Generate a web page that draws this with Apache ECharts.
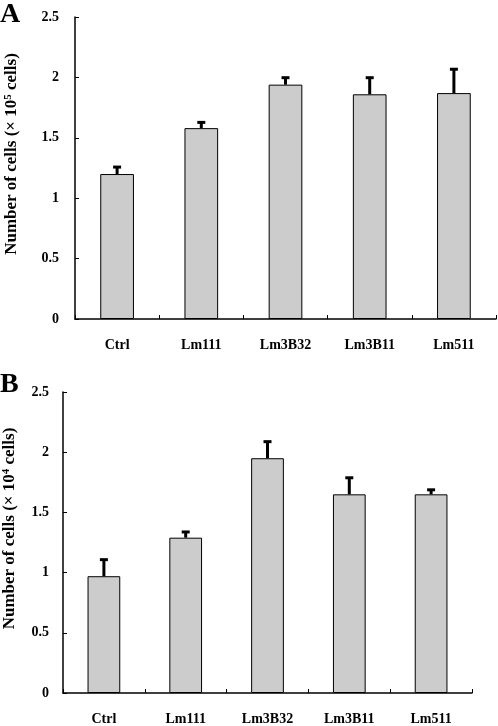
<!DOCTYPE html>
<html><head><meta charset="utf-8">
<script src="https://cdn.jsdelivr.net/npm/echarts@6/dist/echarts.min.js"></script>
<style>html,body{margin:0;padding:0;background:#fff}#c{width:498px;height:726px}</style>
</head><body><div id="c"></div>
<script>
const categories = ['Ctrl', 'Lm111', 'Lm3B32', 'Lm3B11', 'Lm511'];
const valuesA = [1.20, 1.58, 1.94, 1.86, 1.87];
const errorsA = [0.07, 0.06, 0.07, 0.15, 0.21];
const valuesB = [0.97, 1.29, 1.95, 1.65, 1.65];
const errorsB = [0.15, 0.06, 0.15, 0.15, 0.05];
const yTicks = [0, 0.5, 1, 1.5, 2, 2.5];

const FONT = '"Liberation Serif", "Times New Roman", serif';
const chart = echarts.init(document.getElementById('c'), null, {renderer: 'canvas'});

function errItem(params, api) {
  const i = api.value(0);
  const v = api.value(1);
  const e = api.value(2);
  const p0 = api.coord([i, v]);
  const p1 = api.coord([i, v + e]);
  const capW = 8;
  return {
    type: 'group',
    children: [
      {type: 'line', shape: {x1: p0[0], y1: p0[1], x2: p1[0], y2: p1[1] + 1}, style: {stroke: '#000', lineWidth: 3}},
      {type: 'line', shape: {x1: p1[0] - capW / 2, y1: p1[1] + 1.5, x2: p1[0] + capW / 2, y2: p1[1] + 1.5}, style: {stroke: '#000', lineWidth: 3}}
    ]
  };
}

function xAxis(gi) {
  return {
    gridIndex: gi, type: 'category', data: categories,
    axisLine: {lineStyle: {color: '#000', width: 1.5}},
    axisTick: {show: true, inside: true, length: 4, lineStyle: {color: '#000', width: 1}},
    axisLabel: {color: '#000', fontFamily: FONT, fontWeight: 'bold', fontSize: 14, margin: 19},
    splitLine: {show: false}
  };
}
function yAxis(gi, exp, gap, margin) {
  return {
    gridIndex: gi, type: 'value', min: yTicks[0], max: yTicks[yTicks.length - 1], interval: 0.5,
    axisLine: {show: true, lineStyle: {color: '#000', width: 1.5}},
    axisTick: {show: true, inside: true, length: 4, lineStyle: {color: '#000', width: 1}},
    axisLabel: {color: '#000', fontFamily: FONT, fontWeight: 'bold', fontSize: 14, margin: margin},
    splitLine: {show: false},
    name: 'Number of cells (\u00d7 10{sup|' + exp + '} cells)',
    nameLocation: 'middle', nameGap: gap, nameRotate: 90,
    nameTextStyle: {color: '#000', fontFamily: FONT, fontWeight: 'bold', fontSize: 17, padding: [0, 0, 0, 28],
      rich: {sup: {fontFamily: FONT, fontWeight: 'bold', fontSize: 11, verticalAlign: 'top', padding: [0, 0, 7, 0], color: '#000'}}}
  };
}

chart.setOption({
  animation: false,
  backgroundColor: '#fff',
  title: [
    {text: 'A', left: 0, top: 1, textStyle: {fontFamily: FONT, fontWeight: 'bold', fontSize: 28, color: '#000'}, padding: 0},
    {text: 'B', left: 0, top: 371, textStyle: {fontFamily: FONT, fontWeight: 'bold', fontSize: 28, color: '#000'}, padding: 0}
  ],
  grid: [
    {left: 75, top: 17, width: 421, height: 302, outerBoundsMode: 'none', containLabel: false},
    {left: 63, top: 392, width: 409, height: 301, outerBoundsMode: 'none', containLabel: false}
  ],
  xAxis: [xAxis(0), xAxis(1)],
  yAxis: [yAxis(0, 5, 54, 16), yAxis(1, 4, 44, 14)],
  series: [
    {type: 'bar', xAxisIndex: 0, yAxisIndex: 0, data: valuesA, barWidth: '40%',
      itemStyle: {color: '#cccccc', borderColor: '#000', borderWidth: 1}},
    {type: 'custom', xAxisIndex: 0, yAxisIndex: 0, renderItem: errItem,
      data: valuesA.map((v, i) => [i, v, errorsA[i]]), z: 3},
    {type: 'bar', xAxisIndex: 1, yAxisIndex: 1, data: valuesB, barWidth: '40%',
      itemStyle: {color: '#cccccc', borderColor: '#000', borderWidth: 1}},
    {type: 'custom', xAxisIndex: 1, yAxisIndex: 1, renderItem: errItem,
      data: valuesB.map((v, i) => [i, v, errorsB[i]]), z: 3}
  ]
});
</script>
</body></html>
